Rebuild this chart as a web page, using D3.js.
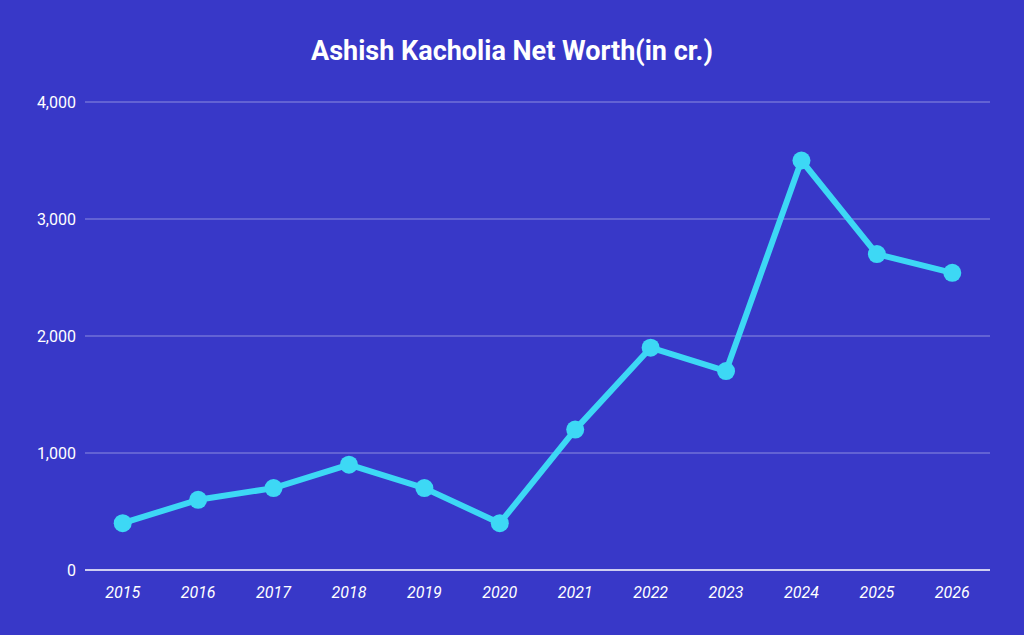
<!DOCTYPE html>
<html><head><meta charset="utf-8">
<script src="https://cdn.jsdelivr.net/npm/d3@7"></script>
<style>body{margin:0;background:#3838c8}svg{display:block;font-family:Roboto,sans-serif}</style>
</head><body><svg id="svg" width="1024" height="635"></svg>
<script>
var years = ["2015","2016","2017","2018","2019","2020","2021","2022","2023","2024","2025","2026"];
var worth = [400,600,700,900,700,400,1200,1900,1700,3500,2700,2540];
var yTicks = [0,1000,2000,3000,4000];

var svg = d3.select('#svg');
svg.append('rect').attr('width',1024).attr('height',635).attr('fill','#3838c8');

var x = d3.scalePoint().domain(years).range([85,990]).padding(0.5);
var y = d3.scaleLinear().domain([0,4000]).range([570,102]);

svg.append('text').attr('x',512).attr('y',60).attr('text-anchor','middle')
  .attr('fill','#fff').style('font-size','27px').style('font-weight','bold')
  .text('Ashish Kacholia Net Worth(in cr.)');

// grid
svg.selectAll('.grid').data(yTicks.slice(1)).enter().append('line')
  .attr('x1',85).attr('x2',990).attr('y1',d=>y(d)).attr('y2',d=>y(d))
  .attr('stroke','#8c8ce0').attr('stroke-width',1);
svg.append('line').attr('x1',85).attr('x2',990).attr('y1',y(0)).attr('y2',y(0))
  .attr('stroke','#fff').attr('stroke-width',1.5);

svg.selectAll('.yl').data(yTicks).enter().append('text')
  .attr('x',76).attr('y',d=>y(d)+6).attr('text-anchor','end')
  .attr('fill','#fff').style('font-size','16px').text(d3.format(','));

svg.selectAll('.xl').data(years).enter().append('text')
  .attr('x',d=>x(d)).attr('y',598).attr('text-anchor','middle')
  .attr('fill','#fff').style('font-size','16px').style('font-style','italic').text(d=>d);

var line = d3.line().x((d,i)=>x(years[i])).y(d=>y(d));
svg.append('path').datum(worth).attr('d',line).attr('fill','none')
  .attr('stroke','#3dd8f5').attr('stroke-width',6).attr('stroke-linejoin','round');
svg.selectAll('.pt').data(worth).enter().append('circle')
  .attr('cx',(d,i)=>x(years[i])).attr('cy',d=>y(d)).attr('r',9).attr('fill','#3dd8f5');
</script></body></html>
